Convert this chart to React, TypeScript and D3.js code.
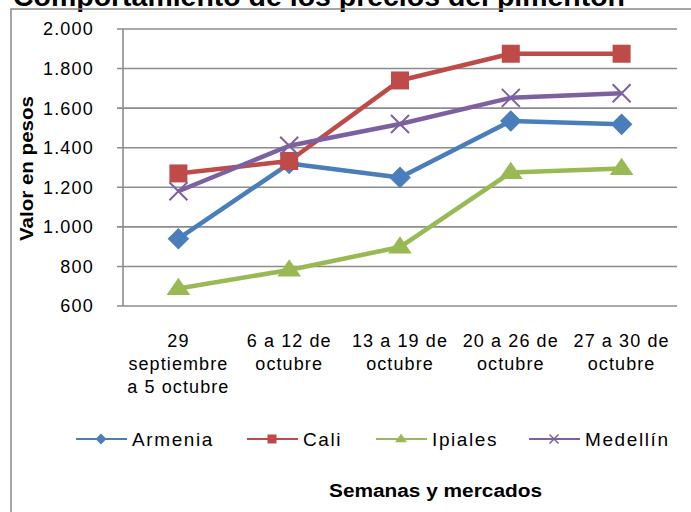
import React from 'react';
import * as d3 from 'd3';

const categories = ['29 septiembre a 5 octubre', '6 a 12 de octubre', '13 a 19 de octubre', '20 a 26 de octubre', '27 a 30 de octubre'];
const categoryLines = [
  ['29', 'septiembre', 'a 5 octubre'],
  ['6 a 12 de', 'octubre'],
  ['13 a 19 de', 'octubre'],
  ['20 a 26 de', 'octubre'],
  ['27 a 30 de', 'octubre'],
];
const armenia = [940, 1320, 1250, 1535, 1518];
const cali = [1270, 1333, 1740, 1875, 1875];
const ipiales = [688, 782, 898, 1275, 1295];
const medellin = [1180, 1410, 1520, 1652, 1675];
const yTicks = [600, 800, 1000, 1200, 1400, 1600, 1800, 2000];

const series = [
  { name: 'Armenia', values: armenia, color: '#4A7EBB', marker: 'diamond' },
  { name: 'Cali', values: cali, color: '#BE4B48', marker: 'square' },
  { name: 'Ipiales', values: ipiales, color: '#98B954', marker: 'triangle' },
  { name: 'Medellín', values: medellin, color: '#7D60A0', marker: 'x' },
];

const fmt = (v: number) => d3.format(',')(v).replace(/,/g, '.');

const Marker = ({ type, x, y, color, s }: any) => {
  if (type === 'square') return <rect x={x - s / 2} y={y - s / 2} width={s} height={s} fill={color} />;
  if (type === 'diamond') {
    const r = s * 0.6;
    return <path d={`M${x},${y - r}L${x + r},${y}L${x},${y + r}L${x - r},${y}Z`} fill={color} />;
  }
  if (type === 'triangle') {
    const r = s * 0.6;
    return <path d={`M${x},${y - r}L${x + r * 1.1},${y + r * 0.6}L${x - r * 1.1},${y + r * 0.6}Z`} fill={color} />;
  }
  const r = s / 2;
  return <path d={`M${x - r},${y - r}L${x + r},${y + r}M${x + r},${y - r}L${x - r},${y + r}`} stroke={color} strokeWidth={s > 12 ? 2 : 1.5} fill="none" />;
};

const App = () => {
  const width = 691, height = 512;
  const left = 123, right = 677, top = 29, bottom = 306;
  const x = d3.scaleBand().domain(categories).range([left, right]);
  const y = d3.scaleLinear().domain([600, 2000]).range([bottom, top]);
  const cx = (c: string) => (x(c) as number) + x.bandwidth() / 2;
  const line = d3.line<number>().x((_, i) => cx(categories[i])).y(d => y(d));
  const font = '"Liberation Sans", Arial, sans-serif';
  const legendX = [101, 272, 401, 554];

  return (
    <svg width={width} height={height} style={{ position: 'absolute', left: 0, top: 0, background: '#fff' }} fontFamily={font}>
      <text x={13} y={6} fontWeight="bold" fontSize={27} textLength={612} lengthAdjust="spacingAndGlyphs">Comportamiento de los precios del pimentón</text>
      <rect x={11} y={9} width={700} height={520} fill="none" stroke="#888" strokeWidth={1.5} />
      {yTicks.map(t => (
        <g key={t}>
          <line x1={117} x2={right} y1={y(t)} y2={y(t)} stroke="#8c8c8c" strokeWidth={1.6} />
          <text x={94} y={y(t)} dy="0.36em" textAnchor="end" fontSize={18} letterSpacing={1.2}>{fmt(t)}</text>
        </g>
      ))}
      <line x1={left} x2={left} y1={top} y2={bottom} stroke="#8c8c8c" strokeWidth={1.6} />
      {categoryLines.map((lines, i) => (
        <text key={i} textAnchor="middle" fontSize={18} letterSpacing={1.1}>
          {lines.map((l, j) => (
            <tspan key={j} x={cx(categories[i])} y={347 + j * 23}>{l}</tspan>
          ))}
        </text>
      ))}
      <text transform={`translate(33,169) rotate(-90)`} x={-72} fontWeight="bold" fontSize={19} textLength={145} lengthAdjust="spacingAndGlyphs">Valor en pesos</text>
      {series.map(s => (
        <g key={s.name}>
          <path d={line(s.values) as string} fill="none" stroke={s.color} strokeWidth={4.5} strokeLinejoin="round" />
          {s.values.map((v, i) => (
            <Marker key={i} type={s.marker} x={cx(categories[i])} y={y(v)} color={s.color} s={18} />
          ))}
        </g>
      ))}
      {series.map((s, i) => (
        <g key={s.name}>
          <line x1={legendX[i] - 25} x2={legendX[i] + 26} y1={439} y2={439} stroke={s.color} strokeWidth={2} />
          <Marker type={s.marker} x={legendX[i]} y={439} color={s.color} s={9} />
          <text x={legendX[i] + 31} y={439} dy="0.36em" fontSize={19} letterSpacing={1.6}>{s.name}</text>
        </g>
      ))}
      <text x={329} y={497} fontWeight="bold" fontSize={18} textLength={213} lengthAdjust="spacingAndGlyphs">Semanas y mercados</text>
    </svg>
  );
};

export default App;
